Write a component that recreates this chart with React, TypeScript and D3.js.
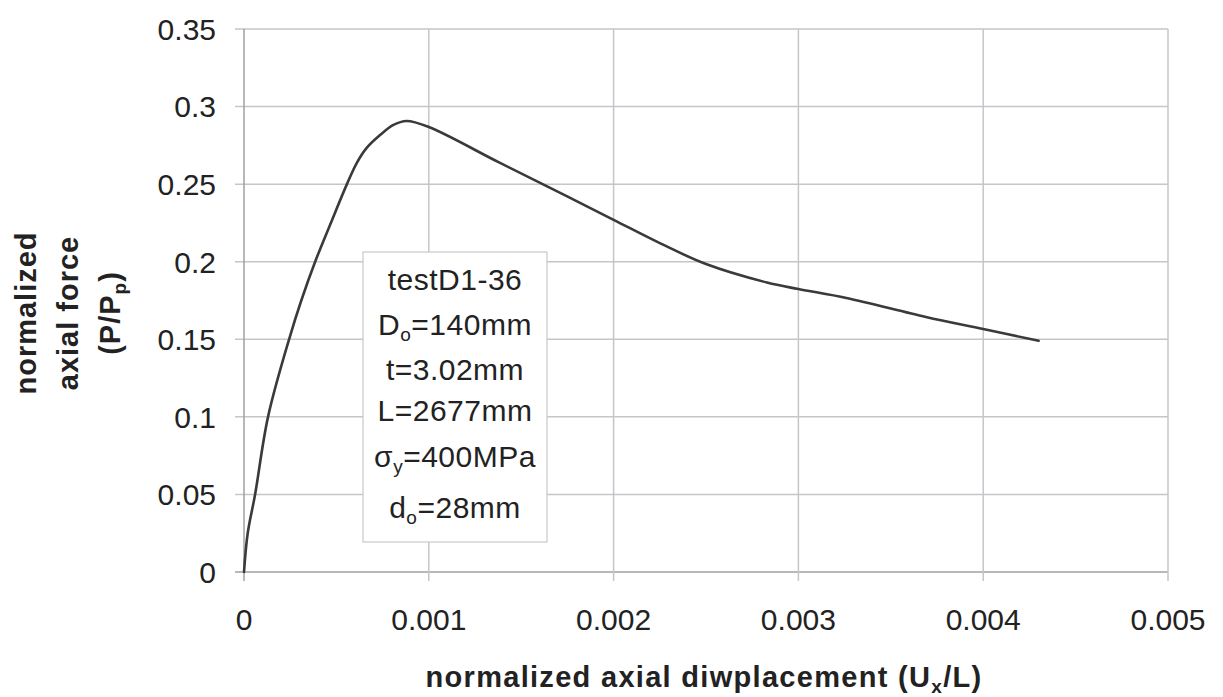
import React from "react";
import * as d3 from "d3";

const xTicks = [0, 0.001, 0.002, 0.003, 0.004, 0.005];
const xTickLabels = ["0", "0.001", "0.002", "0.003", "0.004", "0.005"];
const yTicks = [0, 0.05, 0.1, 0.15, 0.2, 0.25, 0.3, 0.35];
const yTickLabels = ["0", "0.05", "0.1", "0.15", "0.2", "0.25", "0.3", "0.35"];

const dispX = [0, 0.00002, 0.00006, 0.00013, 0.000244, 0.00031, 0.000385, 0.00047, 0.000557, 0.00061, 0.000665, 0.000735, 0.000806, 0.00088, 0.001, 0.00138, 0.0017, 0.002, 0.00225, 0.0025, 0.00283, 0.003, 0.00326, 0.00369, 0.004, 0.0043];
const forceY = [0, 0.025, 0.05, 0.1, 0.15, 0.175, 0.2, 0.225, 0.25, 0.2636, 0.2735, 0.2815, 0.288, 0.2907, 0.2868, 0.264, 0.245, 0.227, 0.212, 0.1985, 0.1866, 0.1824, 0.1766, 0.1644, 0.1566, 0.149];

const FONT = "'Liberation Sans', Arial, sans-serif";

export default function App() {
  const W = 1223, H = 697;
  const x = d3.scaleLinear().domain([0, 0.005]).range([244, 1168]);
  const y = d3.scaleLinear().domain([0, 0.35]).range([572, 29]);
  const pts = dispX.map((d, i) => [d, forceY[i]] as [number, number]);
  const line = d3.line<[number, number]>()
    .x(d => x(d[0]))
    .y(d => y(d[1]))
    .curve(d3.curveCatmullRom.alpha(0.5));

  const gridColor = "#c4c6ca";
  const axisColor = "#a0a0a0";
  const textColor = "#222";
  const bx = 363, by = 252, bw = 184, bh = 290;
  const cx = bx + bw / 2;
  const fs = 30;
  const sub = 19;
  const tfs = 29;
  const tsub = 19;

  return (
    <svg width={W} height={H} style={{ position: "absolute", left: 0, top: 0, background: "#fff" }} fontFamily={FONT}>
      <rect x={0} y={0} width={W} height={H} fill="#fff" />
      {/* grid */}
      {yTicks.map((t, i) => (
        <line key={"gy" + i} x1={x(0) - 9} x2={x(0.005)} y1={y(t)} y2={y(t)} stroke={t === 0 ? axisColor : gridColor} strokeWidth={1.5} />
      ))}
      {xTicks.map((t, i) => (
        <line key={"gx" + i} x1={x(t)} x2={x(t)} y1={y(0.35)} y2={y(0) + 9} stroke={t === 0 ? axisColor : gridColor} strokeWidth={1.5} />
      ))}
      {/* tick labels */}
      {yTicks.map((t, i) => (
        <text key={"yl" + i} x={216} y={y(t)} dy="0.36em" textAnchor="end" fontSize={fs} fill={textColor}>{yTickLabels[i]}</text>
      ))}
      {xTicks.map((t, i) => (
        <text key={"xl" + i} x={x(t)} y={630} textAnchor="middle" fontSize={fs} fill={textColor}>{xTickLabels[i]}</text>
      ))}
      {/* curve */}
      <path d={line(pts) || ""} fill="none" stroke="#3a3a3a" strokeWidth={2.6} strokeLinejoin="round" strokeLinecap="round" />
      {/* text box */}
      <rect x={bx} y={by} width={bw} height={bh} fill="#fff" stroke="#c8c8c8" strokeWidth={1.2} />
      <g fontSize={fs} fill={textColor} textAnchor="middle" letterSpacing={0.5}>
        <text x={cx} y={290}>testD1-36</text>
        <text x={cx} y={335}>D<tspan fontSize={sub} dy={6}>o</tspan><tspan dy={-6}>=140mm</tspan></text>
        <text x={cx} y={380}>t=3.02mm</text>
        <text x={cx} y={421}>L=2677mm</text>
        <text x={cx} y={467}>σ<tspan fontSize={sub} dy={6}>y</tspan><tspan dy={-6}>=400MPa</tspan></text>
        <text x={cx} y={518}>d<tspan fontSize={sub} dy={6}>o</tspan><tspan dy={-6}>=28mm</tspan></text>
      </g>
      {/* axis titles */}
      <text x={704} y={687} textAnchor="middle" fontSize={tfs} fontWeight="bold" fill={textColor} letterSpacing={1.3}>normalized axial diwplacement (U<tspan fontSize={tsub} dy={6}>x</tspan><tspan dy={-6}>/L)</tspan></text>
      <g fontSize={tfs} fontWeight="bold" fill={textColor} textAnchor="middle" letterSpacing={1}>
        <text transform="translate(36,313) rotate(-90)">normalized</text>
        <text transform="translate(78,313) rotate(-90)">axial force</text>
        <text transform="translate(120,313) rotate(-90)">(P/P<tspan fontSize={tsub} dy={6}>p</tspan><tspan dy={-6}>)</tspan></text>
      </g>
    </svg>
  );
}
